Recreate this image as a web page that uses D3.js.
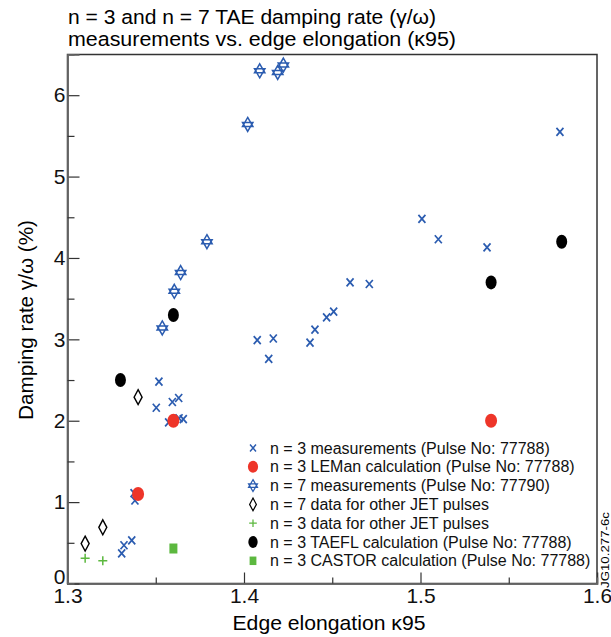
<!DOCTYPE html>
<html>
<head>
<meta charset="utf-8">
<script src="https://cdn.jsdelivr.net/npm/d3@7"></script>
<style>
  body { margin: 0; background: #fff; }
  text { font-family: "Liberation Sans", Arial, Helvetica, sans-serif; }
</style>
</head>
<body>
<div id="chart"></div>
<script>
// data: [kappa95, gamma/omega %]
const n3Meas = [
  [1.3518, 2.48], [1.3503, 2.16], [1.3594, 2.23], [1.363, 2.28], [1.3573, 1.98],
  [1.3632, 2.03], [1.3656, 2.02], [1.3377, 1.11], [1.3382, 1.02], [1.3307, 0.37],
  [1.332, 0.47], [1.3364, 0.53], [1.5008, 4.48], [1.5101, 4.23], [1.5377, 4.13],
  [1.4601, 3.70], [1.471, 3.68], [1.4508, 3.34], [1.4468, 3.27], [1.4402, 3.12],
  [1.4374, 2.96], [1.4075, 2.99], [1.4166, 3.01], [1.414, 2.76], [1.579, 5.55]
];
const lemanCalc = [[1.34, 1.1], [1.36, 2.0], [1.54, 2.0]];
const n7Meas = [
  [1.4089, 6.30], [1.4191, 6.28], [1.4223, 6.37], [1.4021, 5.64], [1.379, 4.20],
  [1.3641, 3.82], [1.3605, 3.59], [1.3537, 3.14]
];
const n7Other = [[1.34, 2.29], [1.32, 0.69], [1.31, 0.49]];
const n3Other = [[1.31, 0.31], [1.32, 0.28]];
const taeflCalc = [[1.33, 2.5], [1.36, 3.3], [1.54, 3.7], [1.58, 4.2]];
const castorCalc = [[1.36, 0.43]];

const legendLabels = [
  "n = 3 measurements (Pulse No: 77788)",
  "n = 3 LEMan calculation (Pulse No: 77788)",
  "n = 7 measurements (Pulse No: 77790)",
  "n = 7 data for other JET pulses",
  "n = 3 data for other JET pulses",
  "n = 3 TAEFL calculation (Pulse No: 77788)",
  "n = 3 CASTOR calculation (Pulse No: 77788)"
];
const xMajor = [1.3, 1.4, 1.5, 1.6];
const xMinor = [1.35, 1.45, 1.55];
const yMajor = [0, 1, 2, 3, 4, 5, 6];
const yMinor = [0.5, 1.5, 2.5, 3.5, 4.5, 5.5];

const W = 611, H = 637;
const plot = { left: 67.5, right: 597, top: 54.5, bottom: 583.5 };

const svg = d3.select("#chart").append("svg")
  .attr("width", W).attr("height", H);

const x = d3.scaleLinear().domain([1.3, 1.6]).range([plot.left, plot.right]);
const y = d3.scaleLinear().domain([0, 6.5]).range([plot.bottom, plot.top]);

const blue = "#2b5cb0", red = "#ee3529", green = "#5cb83f";

// frame
svg.append("rect")
  .attr("x", plot.left).attr("y", plot.top)
  .attr("width", plot.right - plot.left).attr("height", plot.bottom - plot.top)
  .attr("fill", "none").attr("stroke", "#333").attr("stroke-width", 1.5);

// axes
const fmtX = d3.format(".1f");
svg.append("g").attr("transform", `translate(0,${plot.bottom})`)
  .call(d3.axisBottom(x).tickValues(xMajor).tickSize(-11).tickPadding(5).tickFormat(fmtX));
svg.append("g").attr("transform", `translate(0,${plot.bottom})`)
  .call(d3.axisBottom(x).tickValues(xMinor).tickSize(-6).tickFormat(""));
const gy = svg.append("g").attr("transform", `translate(${plot.left},0)`)
  .call(d3.axisLeft(y).tickValues(yMajor).tickSize(-12).tickPadding(2).tickFormat(d3.format("d")));
svg.append("g").attr("transform", `translate(${plot.left},0)`)
  .call(d3.axisLeft(y).tickValues(yMinor).tickSize(-7).tickFormat(""));

svg.selectAll(".domain").attr("stroke", "#666").attr("stroke-width", 1.5);
svg.selectAll(".tick line").attr("stroke", "#333").attr("stroke-width", 1.2);
svg.selectAll(".tick text").attr("font-size", 21).attr("fill", "#111")
  .attr("font-family", "Liberation Sans, Arial, sans-serif");
// the "0" sits a little higher so it clears "1.3"
gy.selectAll(".tick text").filter(d => d === 0).attr("dy", "0em");

// titles
svg.append("text").attr("x", 68).attr("y", 24).attr("font-size", 20.5)
  .attr("textLength", 368).attr("lengthAdjust", "spacingAndGlyphs")
  .text("n = 3 and n = 7 TAE damping rate (γ/ω)");
svg.append("text").attr("x", 68).attr("y", 45.5).attr("font-size", 20.5)
  .attr("textLength", 388).attr("lengthAdjust", "spacingAndGlyphs")
  .text("measurements vs. edge elongation (κ95)");
svg.append("text").attr("x", 329).attr("y", 630).attr("font-size", 21)
  .attr("text-anchor", "middle")
  .attr("textLength", 193).attr("lengthAdjust", "spacingAndGlyphs")
  .text("Edge elongation κ95");
svg.append("text").attr("transform", "translate(33,320) rotate(-90)")
  .attr("font-size", 21).attr("text-anchor", "middle")
  .attr("textLength", 200).attr("lengthAdjust", "spacingAndGlyphs")
  .text("Damping rate γ/ω (%)");
svg.append("text").attr("transform", "translate(608.5,550) rotate(-90)")
  .attr("font-size", 11.5).attr("text-anchor", "middle")
  .attr("textLength", 76).attr("lengthAdjust", "spacingAndGlyphs")
  .text("JG10.277-6c");

// marker drawers
const markers = {
  cross: (g) => g.append("path").attr("d", "M-3.5,-4L3.5,4M3.5,-4L-3.5,4")
    .attr("stroke", blue).attr("stroke-width", 1.7).attr("fill", "none"),
  red: (g) => g.append("ellipse").attr("rx", 6).attr("ry", 7).attr("fill", red),
  star: (g) => g.append("path")
    .attr("d", "M0,-7L5.2,2L-5.2,2Z M0,7L5.2,-2L-5.2,-2Z")
    .attr("stroke", blue).attr("stroke-width", 1.5).attr("fill", "none"),
  diamond: (g) => g.append("path").attr("d", "M0,-7.5L4,0L0,7.5L-4,0Z")
    .attr("stroke", "#000").attr("stroke-width", 1.4).attr("fill", "#fff"),
  plus: (g) => g.append("path").attr("d", "M-4.5,0H4.5M0,-4.5V4.5")
    .attr("stroke", green).attr("stroke-width", 1.5),
  black: (g) => g.append("ellipse").attr("rx", 5.5).attr("ry", 7).attr("fill", "#000"),
  square: (g) => g.append("rect").attr("x", -4).attr("y", -5).attr("width", 8).attr("height", 10)
    .attr("fill", green)
};

const series = [
  { data: n3Meas, m: "cross" },
  { data: n7Meas, m: "star" },
  { data: n7Other, m: "diamond" },
  { data: n3Other, m: "plus" },
  { data: castorCalc, m: "square" },
  { data: taeflCalc, m: "black" },
  { data: lemanCalc, m: "red" }
];

series.forEach(s => {
  svg.append("g").selectAll("g")
    .data(s.data)
    .join("g")
    .attr("transform", d => `translate(${x(d[0])},${y(d[1])})`)
    .each(function () { markers[s.m](d3.select(this)); });
});

// legend
const legendOrder = ["cross", "red", "star", "diamond", "plus", "black", "square"];
const lg = svg.append("g");
legendOrder.forEach((m, i) => {
  const row = lg.append("g").attr("transform", `translate(253,${448 + i * 18.8})`);
  const mk = row.append("g").attr("transform", "scale(0.85)");
  markers[m](mk);
  row.append("text").attr("x", 17).attr("y", 5.5).attr("font-size", 16).attr("fill", "#111")
    .text(legendLabels[i]);
});
</script>
</body>
</html>
